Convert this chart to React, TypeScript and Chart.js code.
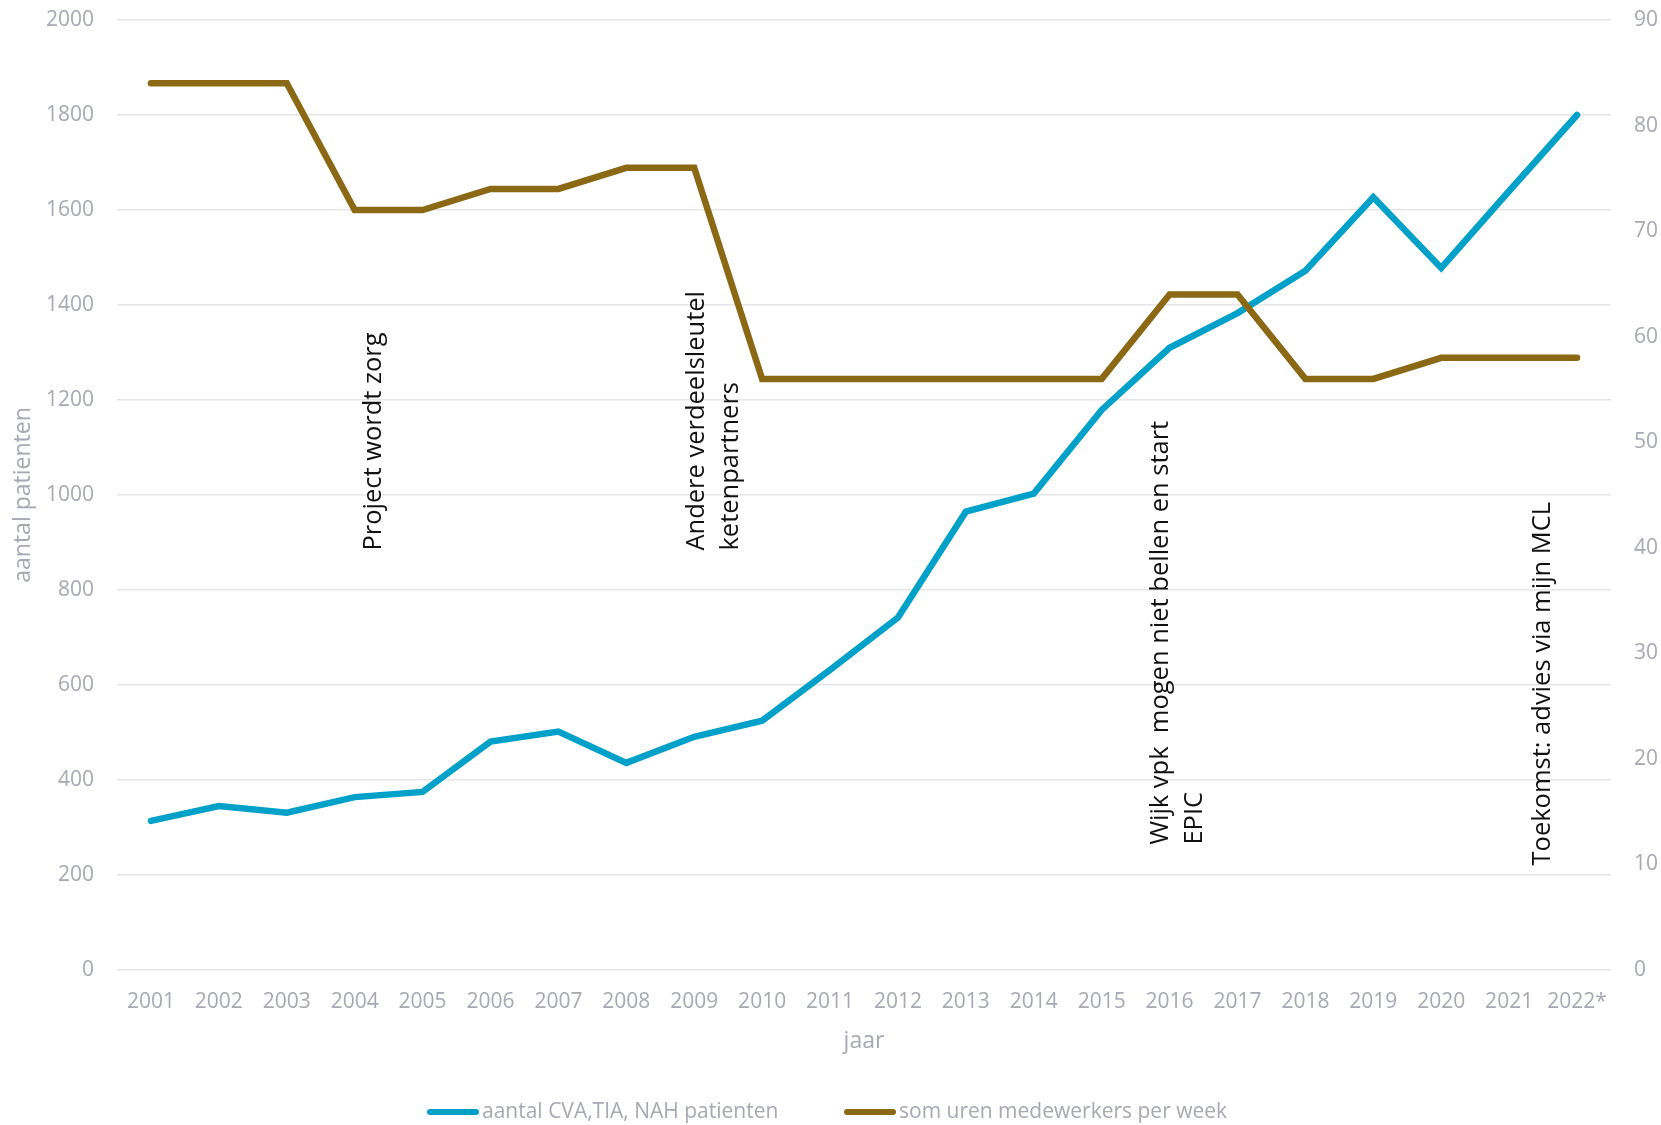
import React, { useEffect, useRef } from "react";
import { Chart, registerables } from "chart.js";

Chart.register(...registerables);

const years = [
  "2001", "2002", "2003", "2004", "2005", "2006", "2007", "2008", "2009", "2010", "2011",
  "2012", "2013", "2014", "2015", "2016", "2017", "2018", "2019", "2020", "2021", "2022*",
];
const patients = [
  314, 345, 331, 364, 375, 481, 502, 436, 491, 525, 632,
  742, 965, 1003, 1179, 1310, 1383, 1472, 1627, 1478, 1640, 1800,
];
const hours = [
  84, 84, 84, 72, 72, 74, 74, 76, 76, 56, 56,
  56, 56, 56, 56, 64, 64, 56, 56, 58, 58, 58,
];
const leftMax = 2000;
const leftStep = 200;
const rightMax = 90;
const rightStep = 10;

const seriesLabels = ["aantal CVA,TIA, NAH patienten", "som uren medewerkers per week"];
const axisTitles = { y: "aantal patienten", x: "jaar" };

// event annotations: text lines, category position (index), left-axis value where text starts
const annotationLines = [
  ["Project wordt zorg"],
  ["Andere verdeelsleutel", "ketenpartners"],
  ["Wijk vpk  mogen niet bellen en start", "EPIC"],
  ["Toekomst: advies via mijn MCL"],
];
const annotationIndex = [3.28, 8.03, 14.87, 20.49];
const annotationValue = [883, 883, 264, 220];

const BLUE = "#00A1C9";
const BROWN = "#8B6914";
const GREY = "#A6A8B4";
const GRID = "#E6E6E8";
const SANS = '"Open Sans", "DejaVu Sans", sans-serif';

const annotationPlugin = {
  id: "eventAnnotations",
  afterDatasetsDraw(chart: any) {
    const { ctx } = chart;
    const xs = chart.scales.x;
    const ys = chart.scales.y;
    ctx.save();
    ctx.font = `25.5px ${SANS}`;
    ctx.fillStyle = "#111111";
    ctx.textAlign = "left";
    ctx.textBaseline = "middle";
    annotationLines.forEach((lines, i) => {
      const px = xs.getPixelForValue(annotationIndex[i]);
      const py = ys.getPixelForValue(annotationValue[i]);
      lines.forEach((line, j) => {
        ctx.save();
        ctx.translate(px + j * 34, py);
        ctx.rotate(-Math.PI / 2);
        ctx.fillText(line, 0, 0);
        ctx.restore();
      });
    });
    ctx.restore();
  },
};

const legendXs = [427, 844];
const legendPlugin = {
  id: "bottomLegend",
  afterDraw(chart: any) {
    const { ctx } = chart;
    const y = chart.height - 13;
    ctx.save();
    chart.data.datasets.forEach((ds: any, i: number) => {
      const x = legendXs[i];
      ctx.strokeStyle = ds.borderColor;
      ctx.lineWidth = 6;
      ctx.lineCap = "round";
      ctx.beginPath();
      ctx.moveTo(x + 3, y);
      ctx.lineTo(x + 49, y);
      ctx.stroke();
      ctx.font = `21px ${SANS}`;
      ctx.fillStyle = GREY;
      ctx.textAlign = "left";
      ctx.textBaseline = "middle";
      ctx.fillText(ds.label, x + 55, y);
    });
    ctx.restore();
  },
};

const noPad = (width: number) => (scale: any) => {
  scale.width = width;
  scale.paddingTop = 0;
  scale.paddingBottom = 0;
};

export default function App() {
  const canvasRef = useRef<HTMLCanvasElement | null>(null);

  useEffect(() => {
    document.body.style.margin = "0";
    const canvas = canvasRef.current;
    if (!canvas) return;
    const chart = new Chart(canvas, {
      type: "line",
      data: {
        labels: years,
        datasets: [
          {
            label: seriesLabels[0],
            data: patients,
            yAxisID: "y",
            borderColor: BLUE,
            backgroundColor: BLUE,
            borderWidth: 6.5,
            pointRadius: 0,
            tension: 0,
            borderCapStyle: "round",
            order: 1,
          },
          {
            label: seriesLabels[1],
            data: hours,
            yAxisID: "y1",
            borderColor: BROWN,
            backgroundColor: BROWN,
            borderWidth: 6.5,
            pointRadius: 0,
            tension: 0,
            borderCapStyle: "round",
            order: 0,
          },
        ],
      },
      options: {
        responsive: false,
        animation: false,
        devicePixelRatio: 1,
        layout: { padding: { top: 20, left: 0, right: 0, bottom: 0 } },
        plugins: {
          legend: { display: false },
          tooltip: { enabled: false },
        },
        scales: {
          x: {
            type: "category",
            offset: true,
            grid: { display: false, drawTicks: false },
            border: { display: false },
            ticks: {
              color: GREY,
              font: { family: SANS, size: 21 },
              padding: 19,
              maxRotation: 0,
              autoSkip: false,
            },
            title: {
              display: true,
              text: axisTitles.x,
              color: GREY,
              font: { family: SANS, size: 23 },
              padding: { top: 0, bottom: 70 },
            },
            afterFit: (scale: any) => {
              scale.height = 155;
            },
          },
          y: {
            type: "linear",
            position: "left",
            min: 0,
            max: leftMax,
            grid: { color: GRID, lineWidth: 1.5, drawTicks: false },
            border: { display: false },
            ticks: {
              stepSize: leftStep,
              color: GREY,
              font: { family: SANS, size: 21 },
              padding: 23,
              callback: (v: any) => String(v),
            },
            title: {
              display: true,
              text: axisTitles.y,
              color: GREY,
              font: { family: SANS, size: 23 },
              padding: { top: 10, bottom: 0 },
            },
            afterFit: noPad(117),
          },
          y1: {
            type: "linear",
            position: "right",
            min: 0,
            max: rightMax,
            grid: { display: false, drawTicks: false },
            border: { display: false },
            ticks: {
              stepSize: rightStep,
              color: GREY,
              font: { family: SANS, size: 21 },
              padding: 23,
              callback: (v: any) => String(v),
            },
            afterFit: noPad(50),
          },
        },
      },
      plugins: [annotationPlugin, legendPlugin],
    } as any);
    return () => chart.destroy();
  }, []);

  return (
    <div style={{ position: "absolute", left: 0, top: 0, width: 1661, height: 1125, background: "#fff" }}>
      <canvas ref={canvasRef} width={1661} height={1125} style={{ display: "block" }} />
    </div>
  );
}
